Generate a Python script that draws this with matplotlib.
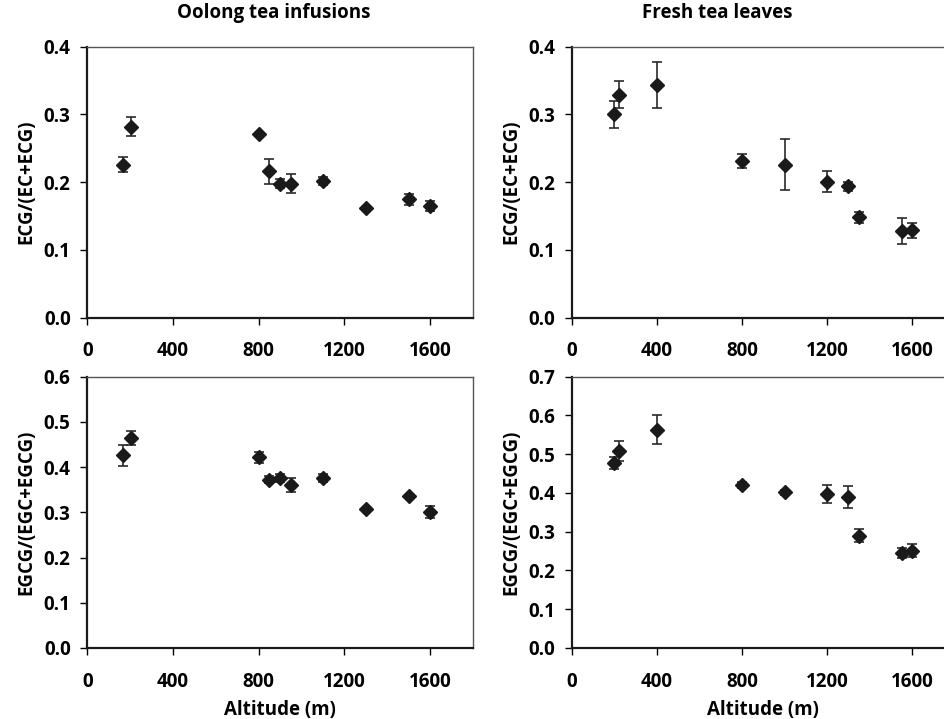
import matplotlib.pyplot as plt

# Oolong tea infusions
oolong_alt = [168, 203, 800, 850, 900, 950, 1100, 1300, 1500, 1600]
oolong_ecg = [0.226, 0.282, 0.271, 0.216, 0.198, 0.198, 0.202, 0.162, 0.175, 0.165]
oolong_ecg_err = [0.011, 0.014, 0.0, 0.018, 0.007, 0.0135, 0.006, 0.0, 0.008, 0.008]
oolong_egcg = [0.426, 0.465, 0.422, 0.372, 0.376, 0.361, 0.376, 0.307, 0.335, 0.301]
oolong_egcg_err = [0.024, 0.015, 0.0125, 0.008, 0.009, 0.016, 0.0095, 0.0, 0.0, 0.0135]

# Fresh tea leaves
fresh_alt = [200, 220, 400, 800, 1000, 1200, 1300, 1350, 1550, 1600]
fresh_ecg = [0.300, 0.329, 0.344, 0.231, 0.226, 0.201, 0.194, 0.148, 0.128, 0.129]
fresh_ecg_err = [0.020, 0.020, 0.034, 0.0106, 0.038, 0.016, 0.0067, 0.0076, 0.019, 0.011]
fresh_egcg = [0.477, 0.508, 0.563, 0.4205, 0.4016, 0.398, 0.389, 0.290, 0.244, 0.251]
fresh_egcg_err = [0.015, 0.025, 0.037, 0.008, 0.006, 0.023, 0.029, 0.016, 0.013, 0.016]

xticks = [0, 400, 800, 1200, 1600]

plt.rcParams['font.family'] = ['Open Sans', 'DejaVu Sans']
plt.rcParams['font.weight'] = 'bold'

fig = plt.figure(figsize=(9.44, 7.19), dpi=100)

positions = {
    'tl': [0.0925, 0.5581, 0.4083, 0.3769],
    'tr': [0.6056, 0.5581, 0.4060, 0.3769],
    'bl': [0.0925, 0.0988, 0.4083, 0.3773],
    'br': [0.6056, 0.0988, 0.4060, 0.3773],
}

panels = [
    ('tl', oolong_alt, oolong_ecg, oolong_ecg_err, 0.4, 'ECG/(EC+ECG)'),
    ('tr', fresh_alt, fresh_ecg, fresh_ecg_err, 0.4, 'ECG/(EC+ECG)'),
    ('bl', oolong_alt, oolong_egcg, oolong_egcg_err, 0.6, 'EGCG/(EGC+EGCG)'),
    ('br', fresh_alt, fresh_egcg, fresh_egcg_err, 0.7, 'EGCG/(EGC+EGCG)'),
]

for key, x, y, err, ymax, ylab in panels:
    ax = fig.add_axes(positions[key])
    ax.errorbar(x, y, yerr=err, fmt='D', color='#1a1a1a', ms=6.8,
                ecolor='#2a2a2a', elinewidth=1.2, capsize=3.5, capthick=1.2)
    ax.set_xlim(0, 1800)
    ax.set_ylim(0, ymax)
    nt = int(round(ymax * 10)) + 1
    ax.set_xticks(xticks)
    ax.set_yticks([i / 10 for i in range(nt)])
    ax.set_yticklabels(['%.1f' % (i / 10) for i in range(nt)])
    ax.tick_params(direction='out', length=5, width=1, labelsize=13.5)
    ax.tick_params(axis='x', pad=12)
    ax.tick_params(axis='y', pad=7)
    for s in ['left', 'bottom']:
        ax.spines[s].set_linewidth(1.6)
        ax.spines[s].set_color('#1a1a1a')
    for s in ['top', 'right']:
        ax.spines[s].set_linewidth(1.0)
        ax.spines[s].set_color('#555555')
    ax.set_ylabel(ylab, fontsize=13.5, fontweight='bold', labelpad=5)
    if key in ('bl', 'br'):
        ax.set_xlabel('Altitude (m)', fontsize=13.5, fontweight='bold', labelpad=6)

fig.text(0.2895, 0.982, 'Oolong tea infusions', ha='center', va='center',
         fontsize=13.5, fontweight='bold')
fig.text(0.7595, 0.982, 'Fresh tea leaves', ha='center', va='center',
         fontsize=13.5, fontweight='bold')

fig.savefig('out.png', dpi=100)
